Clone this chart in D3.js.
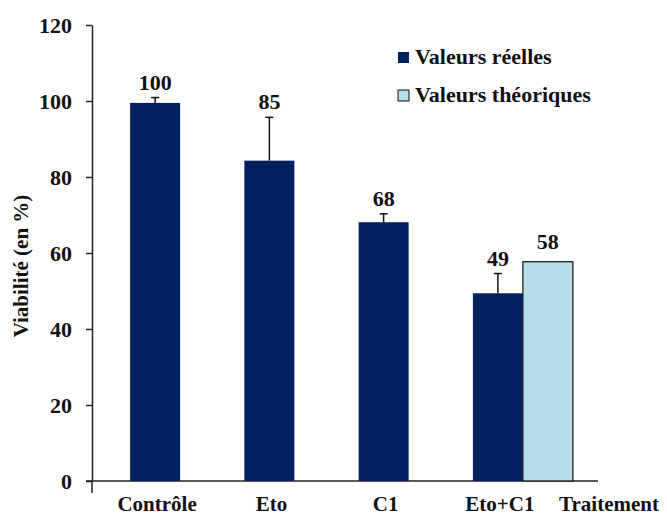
<!DOCTYPE html>
<html>
<head>
<meta charset="utf-8">
<script src="https://cdn.jsdelivr.net/npm/d3@7"></script>
<style>
  body { margin: 0; background: #fff; }
</style>
</head>
<body>
<div id="chart"></div>
<script>
// data
var categories = ["Contrôle", "Eto", "C1", "Eto+C1"];
var valeursReelles = [99.5, 84.3, 68.1, 49.4];
var erreurs = [1.4, 11.4, 2.2, 5.2];
var etiquettesReelles = ["100", "85", "68", "49"];
var valeursTheoriques = [null, null, null, 57.7];
var etiquettesTheoriques = [null, null, null, "58"];
var yTicks = [0, 20, 40, 60, 80, 100, 120];
var legende = ["Valeurs réelles", "Valeurs théoriques"];

var dark = "#002060", light = "#b7dde8";
var police = "Liberation Serif";

var svg = d3.select("#chart").append("svg")
    .attr("width", 667)
    .attr("height", 516);

// helper for the bold serif text used everywhere
var styleTexte = function(sel, taille) {
    sel.attr("font-family", police)
        .attr("font-weight", "bold")
        .attr("font-size", taille)
        .attr("fill", "#111");
};

var y = d3.scaleLinear()
    .domain([0, 120])
    .range([481, 25]);

var x = d3.scaleBand()
    .domain(categories)
    .range([98, 555])
    .paddingInner(0.5625)
    .paddingOuter(0.28125);

var bw = x.bandwidth();

// y axis
var yAxis = svg.append("g")
    .attr("transform", "translate(92,0)")
    .call(d3.axisLeft(y).tickValues(yTicks).tickSize(6).tickPadding(14).tickSizeOuter(0));
yAxis.attr("font-family", police).attr("font-size", 22);
yAxis.select(".domain").attr("stroke", "#222").attr("stroke-width", 1.5);
yAxis.selectAll(".tick line").attr("stroke", "#222").attr("stroke-width", 1.5);
yAxis.selectAll(".tick text").call(styleTexte, 22);
// small extension of the axis below zero
yAxis.append("line")
    .attr("x1", 0).attr("x2", 0)
    .attr("y1", y(0)).attr("y2", y(0) + 12)
    .attr("stroke", "#222").attr("stroke-width", 1.5);

// x axis line
svg.append("line")
    .attr("x1", 86).attr("x2", 598)
    .attr("y1", y(0)).attr("y2", y(0))
    .attr("stroke", "#222").attr("stroke-width", 1.5);

// bars - valeurs réelles
svg.selectAll(".bar")
    .data(categories)
    .enter().append("rect")
    .attr("class", "bar")
    .attr("x", function(d) { return x(d); })
    .attr("width", bw)
    .attr("y", function(d, i) { return y(valeursReelles[i]); })
    .attr("height", function(d, i) { return y(0) - y(valeursReelles[i]); })
    .attr("fill", dark);

// bars - valeurs théoriques
svg.selectAll(".bar2")
    .data(categories.filter(function(d, i) { return valeursTheoriques[i] != null; }))
    .enter().append("rect")
    .attr("class", "bar2")
    .attr("x", function(d) { return x(d) + bw; })
    .attr("width", bw)
    .attr("y", function(d) { return y(valeursTheoriques[categories.indexOf(d)]); })
    .attr("height", function(d) { return y(0) - y(valeursTheoriques[categories.indexOf(d)]); })
    .attr("fill", light)
    .attr("stroke", "#111")
    .attr("stroke-width", 1.2);

// error bars
var err = svg.selectAll(".err")
    .data(categories)
    .enter().append("g")
    .attr("class", "err");
err.append("line")
    .attr("x1", function(d) { return x(d) + bw / 2; })
    .attr("x2", function(d) { return x(d) + bw / 2; })
    .attr("y1", function(d, i) { return y(valeursReelles[i]); })
    .attr("y2", function(d, i) { return y(valeursReelles[i] + erreurs[i]); })
    .attr("stroke", "#111").attr("stroke-width", 1.5);
err.append("line")
    .attr("x1", function(d) { return x(d) + bw / 2 - 4; })
    .attr("x2", function(d) { return x(d) + bw / 2 + 4; })
    .attr("y1", function(d, i) { return y(valeursReelles[i] + erreurs[i]); })
    .attr("y2", function(d, i) { return y(valeursReelles[i] + erreurs[i]); })
    .attr("stroke", "#111").attr("stroke-width", 1.5);

// value labels
svg.selectAll(".lbl")
    .data(categories)
    .enter().append("text")
    .attr("class", "lbl")
    .attr("x", function(d) { return x(d) + bw / 2; })
    .attr("y", function(d, i) { return y(valeursReelles[i] + erreurs[i]) - 8; })
    .attr("text-anchor", "middle")
    .call(styleTexte, 22)
    .text(function(d, i) { return etiquettesReelles[i]; });

svg.selectAll(".lbl2")
    .data(categories.filter(function(d, i) { return etiquettesTheoriques[i] != null; }))
    .enter().append("text")
    .attr("class", "lbl2")
    .attr("x", function(d) { return x(d) + bw * 1.5; })
    .attr("y", function(d) { return y(valeursTheoriques[categories.indexOf(d)]) - 13; })
    .attr("text-anchor", "middle")
    .call(styleTexte, 22)
    .text(function(d) { return etiquettesTheoriques[categories.indexOf(d)]; });

// category labels
svg.selectAll(".cat")
    .data(categories)
    .enter().append("text")
    .attr("class", "cat")
    .attr("x", function(d) { return x(d) + bw / 2 + 2; })
    .attr("y", 511)
    .attr("text-anchor", "middle")
    .call(styleTexte, 21)
    .text(function(d) { return d; });

// axis titles
svg.append("text")
    .attr("x", 609).attr("y", 511)
    .attr("text-anchor", "middle")
    .call(styleTexte, 21)
    .text("Traitement");

svg.append("text")
    .attr("transform", "translate(28,266) rotate(-90)")
    .attr("text-anchor", "middle")
    .call(styleTexte, 21)
    .text("Viabilité (en %)");

// legend
var leg = svg.selectAll(".leg")
    .data(legende)
    .enter().append("g")
    .attr("class", "leg")
    .attr("transform", function(d, i) { return "translate(398," + (52 + i * 38) + ")"; });
leg.append("rect")
    .attr("width", 11).attr("height", 11)
    .attr("fill", function(d, i) { return i == 0 ? dark : light; })
    .attr("stroke", function(d, i) { return i == 0 ? "none" : "#111"; })
    .attr("stroke-width", 1);
leg.append("text")
    .attr("x", 17).attr("y", 12)
    .call(styleTexte, 22)
    .text(function(d) { return d; });
</script>
</body>
</html>
